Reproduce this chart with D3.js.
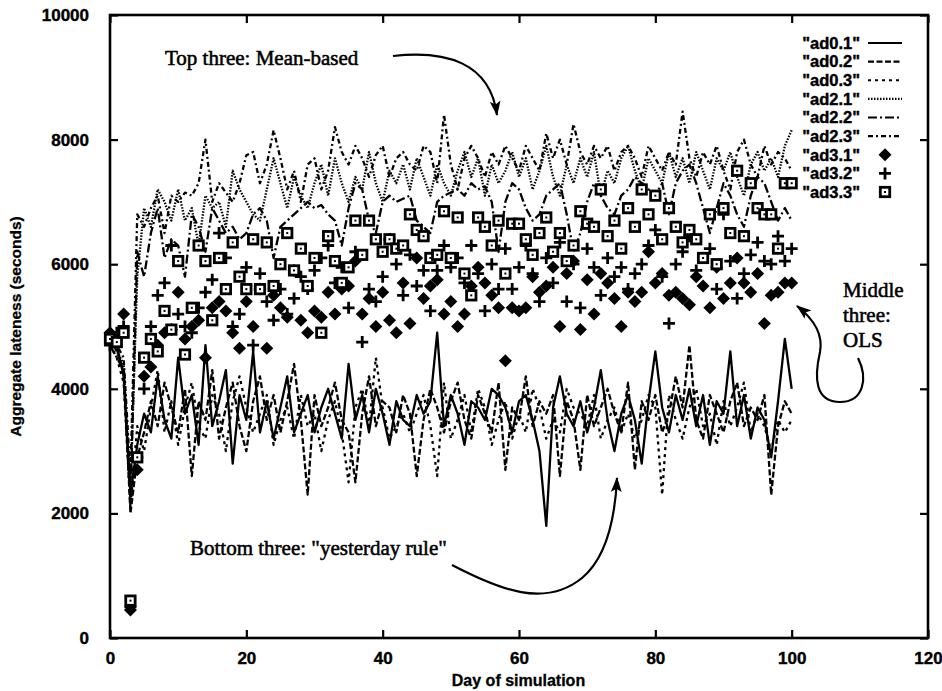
<!DOCTYPE html>
<html lang="en">
<head>
<meta charset="utf-8"/>
<script src="https://d3js.org/d3.v7.min.js"></script>
<title>Aggregate lateness</title>
<style>
  body { margin: 0; background: #fff; }
  .tick text { font-family: "Liberation Sans", Arial, sans-serif; font-weight: bold; font-size: 17px; fill: #000; stroke: #000; stroke-width: 0.4px; }
  .tick line { stroke: #000; stroke-width: 2.2; }
  .note { font-family: "Liberation Serif", "Times New Roman", serif; font-size: 21px; fill: #000; stroke: #000; stroke-width: 0.55px; }
  .legend text { font-family: "Liberation Sans", Arial, sans-serif; font-weight: bold; font-size: 16.5px; fill: #000; stroke: #000; stroke-width: 0.4px; }
  .title { font-family: "Liberation Sans", Arial, sans-serif; font-weight: bold; fill: #000; stroke: #000; stroke-width: 0.3px; }
</style>
</head>
<body>
<svg id="chart"></svg>
<script>
// day index 0..100
const days = d3.range(0, 101);

// "yesterday rule"
const ad01 = [4900,4700,4200,2300,3100,3600,3300,4200,3500,3200,4500,3600,3900,3100,4700,3400,3800,4300,2800,3900,
  3500,4600,3300,3800,3200,3700,4200,3300,3600,3900,3300,3700,4000,3600,3200,4400,3500,3900,3300,4000,
  3600,3100,3800,3500,3400,3900,3600,3800,4900,3400,3900,3600,3100,3800,3700,3500,4000,3900,3700,3300,
  3800,3900,3500,3000,1800,3700,4200,3600,3400,3800,3300,3700,4300,3500,3000,3600,3900,3500,2800,3800,
  4600,3700,3300,3900,3500,4000,3400,3900,3100,3800,3600,4600,3400,3900,3200,3700,3500,2900,3800,4800,4000];
const ad02 = [4800,4600,4300,2000,2900,3300,3800,3400,4100,3700,3300,4000,2600,3800,3500,4300,3200,3700,4100,3400,
  3000,3800,4200,3500,3900,3300,3800,4400,3500,2300,3900,3400,3700,4100,3500,3300,2500,3600,4200,3400,
  3800,3700,3300,3900,3600,2600,3500,4000,3700,3300,3800,4100,3500,3200,3900,3600,3300,4100,2700,3700,
  3500,4200,3400,3800,3600,3900,2600,3800,3500,2700,3900,3400,3700,4000,3600,3300,4100,2700,3800,3500,
  3900,3300,3600,4200,3700,4700,3500,3200,3900,3600,3300,3800,4100,3400,3700,3500,3900,2300,3400,3800,3600];
const ad03 = [4700,4500,4100,2100,3400,3000,3700,4300,3300,3800,3100,3700,4100,3400,3200,3900,3600,3000,3800,4200,
  3700,3300,3600,3900,3100,3500,3700,3200,3900,3400,3600,3000,3500,3800,3300,2500,3700,4000,3400,4500,
  3700,3200,3400,3600,3300,3600,3900,3400,2600,4100,3200,3500,3900,3300,4000,3700,3100,3500,3800,3200,
  3600,3300,4000,3700,3200,3500,3300,4000,3700,3600,3400,3900,3200,3500,3700,3300,3600,3200,3500,3900,
  3700,2300,3900,3500,3200,3700,4000,3400,3600,3100,3800,3400,3700,4100,3300,3600,3400,3000,3500,3300,3500];

// mean-based
const ad21 = [4800,4600,4400,2400,5800,6900,6600,7200,7000,6700,7200,6700,6900,6300,7100,6900,7000,6600,7500,7200,
  7000,6800,6700,7200,7700,7300,6900,7400,7100,6900,7300,7600,7100,7700,7300,7000,7400,7200,7800,7300,
  7000,7500,7300,7600,7200,7700,7400,7100,7600,7300,7100,7500,7800,7400,7700,7100,7600,7300,7500,7800,
  7400,7700,7200,7500,7900,7400,7100,7600,7300,7700,7400,7800,7100,7500,7300,7700,7900,7500,7200,7700,
  7500,7300,7800,7400,7700,7300,7800,7500,7200,7700,7500,7800,7400,7100,7600,7800,7500,7700,7400,7900,8150];
const ad22 = [4700,4500,4300,2200,6200,5800,6500,6900,6100,6400,6300,5800,6800,6600,6200,6900,6700,6500,6600,6400,
  6500,6800,6900,6700,6100,6600,6700,6800,6900,7000,6900,6950,6800,6700,6300,6900,7300,7200,6700,6500,
  7000,7100,7000,7050,7100,6700,6600,6500,7000,7100,7150,7200,7100,7300,7200,7250,7000,6200,7000,7300,
  7200,6900,6700,6800,7100,7200,7300,6800,6200,6500,7000,7300,7100,6900,6800,7100,7200,7400,7300,7200,
  7100,7300,6800,7300,7500,7600,7300,6900,6500,6900,7300,7100,6800,6600,7100,7400,7300,7000,6700,6900,6700];
const ad23 = [4800,4700,4500,2600,6800,6600,6900,7100,6500,7100,7000,7150,7100,7300,8000,7000,7300,7150,7000,7300,
  7750,7800,7300,7600,8150,7700,7200,7500,7000,7600,7700,7200,7500,8200,7800,7600,7900,7700,7400,7750,
  7900,7400,7700,7800,7600,7500,7900,7800,7300,8400,7600,7200,7700,7900,7700,7400,7800,7600,7900,7700,
  7500,7900,7700,7500,8100,7700,8000,7600,8250,7800,7600,7900,7700,7900,7500,7800,7900,7700,7400,7900,
  7700,7500,7800,7600,8450,7700,7400,7800,7600,7900,7500,7200,7800,8000,7600,7400,7900,7600,7800,7700,7500];

// OLS
const ad31 = [4900,4800,5200,450,2700,4200,4350,4700,4900,4950,5550,4800,5000,5100,4500,5300,5400,5250,4900,4650,
  5400,5000,5600,4650,5500,5300,5150,5900,5100,4900,5250,5150,5550,5200,5600,5650,6050,5200,5450,5000,
  5550,5100,4900,5700,5050,6100,5450,5650,5750,5200,5400,5000,5200,5650,5950,5700,5500,5300,4450,5300,
  5250,5300,5800,5550,5650,5950,5000,5850,6050,4950,5750,5200,5850,5700,5450,5000,5550,5400,5550,6200,
  5700,5850,5500,5550,5450,5350,5800,5650,5300,5950,5450,5700,6100,5700,5550,5850,5050,5500,5550,5700,5700];
const ad32 = [4700,4900,5000,500,2900,4000,5000,5500,5700,6300,5200,5000,4900,5300,5550,5750,6500,6100,5000,5200,
  5950,4700,5850,5400,5100,5600,5200,5450,5800,5600,5900,6100,6300,5700,5950,5300,6200,4750,5600,5400,
  5800,6400,6000,5500,6150,5650,5900,5250,5900,6300,5950,6100,5700,6300,5850,5250,6000,5600,6250,5600,
  5950,6300,5850,5400,6100,5700,6350,5400,6000,5300,6250,5950,5500,6100,5800,5950,5600,5850,6000,6300,
  6550,5800,5050,6000,6200,6450,5900,6100,6250,5600,6800,6050,5450,5850,6150,6350,6050,6000,6450,6050,6250];
const ad33 = [4800,4750,4900,600,2900,4500,4800,4600,5250,4950,6050,4550,5300,6300,6050,5100,6100,5600,6350,5800,
  5600,6400,5600,6350,5650,6000,6500,5900,6250,5650,6100,4900,6450,6050,5700,5950,6700,6150,6700,6400,
  6200,6400,6250,6300,6800,6550,6450,6100,6150,6850,6100,6750,5850,5500,6750,6600,6300,6700,5850,6650,
  6650,6400,6150,6500,6750,6200,6500,6050,6300,6850,6650,6600,7200,6450,6700,6250,6900,6600,7200,6800,
  7100,6400,6900,6600,6350,6550,6400,6100,6800,6000,6900,6500,7500,6450,7300,6900,6800,6800,6250,7300,7300];

const seriesNames = ["\"ad0.1\"", "\"ad0.2\"", "\"ad0.3\"", "\"ad2.1\"", "\"ad2.2\"", "\"ad2.3\"", "\"ad3.1\"", "\"ad3.2\"", "\"ad3.3\""];
const xTicks = [0, 20, 40, 60, 80, 100, 120];
const yTicks = [0, 2000, 4000, 6000, 8000, 10000];

const series = [
  {name: seriesNames[0], values: ad01, dash: null},
  {name: seriesNames[1], values: ad02, dash: "6,2.5"},
  {name: seriesNames[2], values: ad03, dash: "3,4"},
  {name: seriesNames[3], values: ad21, dash: "1.5,1.5"},
  {name: seriesNames[4], values: ad22, dash: "9,3,2,3"},
  {name: seriesNames[5], values: ad23, dash: "5,3,2,3"},
  {name: seriesNames[6], values: ad31, mark: "diamond"},
  {name: seriesNames[7], values: ad32, mark: "plus"},
  {name: seriesNames[8], values: ad33, mark: "square"}
];

const W = 942, H = 691;
const margin = {top: 15, right: 14, bottom: 53, left: 110};
const width = W - margin.left - margin.right,
      height = H - margin.top - margin.bottom;

const svg = d3.select("#chart").attr("width", W).attr("height", H)
  .append("g")
    .attr("transform", "translate(" + margin.left + "," + margin.top + ")");

const x = d3.scaleLinear().domain([0, 120]).range([0, width]);
const y = d3.scaleLinear().domain([0, 10000]).range([height, 0]);

// axes, ticks pointing inward like gnuplot
const xAxis = svg.append("g").attr("transform", "translate(0," + height + ")")
  .call(d3.axisBottom(x).tickValues(xTicks).tickSize(-8).tickPadding(18).tickFormat(d3.format("d")));
const yAxis = svg.append("g")
  .call(d3.axisLeft(y).tickValues(yTicks).tickSize(-8).tickPadding(21).tickFormat(d3.format("d")));
svg.append("g").call(d3.axisTop(x).tickValues(xTicks).tickSize(-8).tickFormat(""));
svg.append("g").attr("transform", "translate(" + width + ",0)")
  .call(d3.axisRight(y).tickValues(yTicks).tickSize(-8).tickFormat(""));
svg.selectAll(".domain").remove();
xAxis.selectAll("text").attr("dy", "0.45em");

svg.append("rect")
  .attr("width", width).attr("height", height)
  .attr("fill", "none").attr("stroke", "#000").attr("stroke-width", 2.6);

// axis titles
svg.append("text")
  .attr("class", "title")
  .attr("x", x(60) - 0.5).attr("y", height + 48)
  .attr("text-anchor", "middle")
  .style("font-size", "16px")
  .text("Day of simulation");
svg.append("text")
  .attr("class", "title")
  .attr("transform", "translate(" + (-89) + "," + y(5000) + ") rotate(-90)")
  .attr("text-anchor", "middle")
  .style("font-size", "15.5px")
  .text("Aggregate lateness (seconds)");

const line = d3.line().x((d, i) => x(days[i])).y(d => y(d));

const drawMark = (sel, kind) => {
  if (kind === "diamond") {
    sel.append("path").attr("d", "M0,-6.5L6.5,0L0,6.5L-6.5,0Z").attr("fill", "#000");
  } else if (kind === "plus") {
    sel.append("path").attr("d", "M-6,0H6M0,-6V6").attr("stroke", "#000").attr("stroke-width", 2.8);
  } else {
    sel.append("rect").attr("x", -4.7).attr("y", -4.7).attr("width", 9.4).attr("height", 9.4)
      .attr("fill", "#fff").attr("stroke", "#000").attr("stroke-width", 2.8);
    sel.append("rect").attr("x", -1).attr("y", -1).attr("width", 2).attr("height", 2).attr("fill", "#000");
  }
};

series.forEach(s => {
  if (!s.mark) {
    svg.append("path")
      .datum(s.values)
      .attr("fill", "none")
      .attr("stroke", "#000")
      .attr("stroke-width", 2.3)
      .attr("stroke-linejoin", "round")
      .attr("stroke-dasharray", s.dash)
      .attr("d", line);
  } else {
    svg.append("g").selectAll("g")
      .data(s.values)
      .join("g")
        .attr("transform", (d, i) => "translate(" + x(days[i]) + "," + y(d) + ")")
        .each(function() { drawMark(d3.select(this), s.mark); });
  }
});

// legend
const legend = svg.append("g").attr("class", "legend");
const rowY = d3.scaleLinear().domain([0, 8]).range([28, 177]);
series.forEach((s, i) => {
  legend.append("text")
    .attr("x", 750).attr("y", rowY(i)).attr("dy", "0.35em")
    .attr("text-anchor", "end")
    .text(s.name);
  if (!s.mark) {
    legend.append("line")
      .attr("x1", 758).attr("x2", 792).attr("y1", rowY(i)).attr("y2", rowY(i))
      .attr("stroke", "#000").attr("stroke-width", 2.2)
      .attr("stroke-dasharray", s.dash);
  } else {
    drawMark(legend.append("g").attr("transform", "translate(775," + rowY(i) + ")"), s.mark);
  }
});

// annotations
const defs = d3.select("#chart").append("defs");
defs.append("marker")
  .attr("id", "head").attr("viewBox", "0 -5 14 10")
  .attr("refX", 13).attr("refY", 0)
  .attr("markerWidth", 15).attr("markerHeight", 11)
  .attr("markerUnits", "userSpaceOnUse")
  .attr("orient", "auto")
  .append("path").attr("d", "M0,-5L14,0L0,5L3,0Z").attr("fill", "#000");

const notes = d3.select("#chart").append("g");
notes.append("text").attr("class", "note").attr("x", 165).attr("y", 65).text("Top three: Mean-based");
notes.append("text").attr("class", "note").attr("x", 190).attr("y", 555).text("Bottom three: \"yesterday rule\"");
notes.append("text").attr("class", "note").attr("x", 843).attr("y", 297).text("Middle");
notes.append("text").attr("class", "note").attr("x", 843).attr("y", 322).text("three:");
notes.append("text").attr("class", "note").attr("x", 843).attr("y", 347).text("OLS");

const arrows = [
  "M393,56 C445,50 490,62 497,115",
  "M452,565 C500,590 545,608 582,578 C606,558 615,520 617,478",
  "M858,358 C868,378 864,402 840,402 C815,402 814,378 820,352 C823,336 815,320 797,306"
];
notes.selectAll("path.arrow")
  .data(arrows)
  .join("path")
    .attr("class", "arrow")
    .attr("d", d => d)
    .attr("fill", "none")
    .attr("stroke", "#000")
    .attr("stroke-width", 2.2)
    .attr("marker-end", "url(#head)");
</script>
</body>
</html>
